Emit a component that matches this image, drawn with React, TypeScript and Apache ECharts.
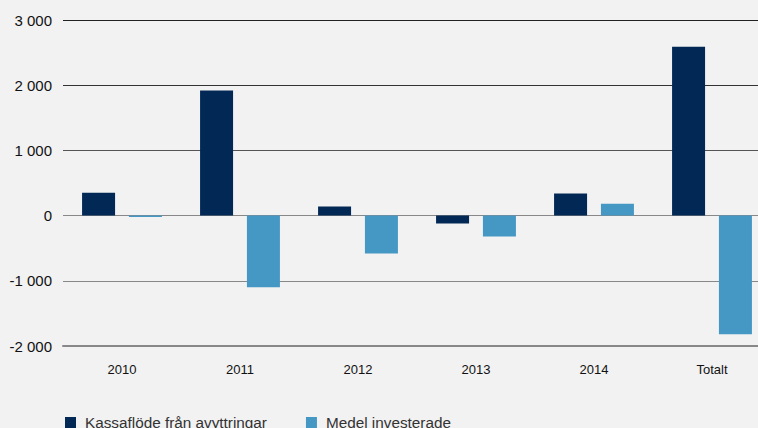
import React, { useEffect, useRef } from "react";
import * as echarts from "echarts";

const categories = ["2010", "2011", "2012", "2013", "2014", "Totalt"];
const kassaflode = [350, 1920, 140, -120, 340, 2590];
const medelInvesterade = [-20, -1100, -580, -320, 180, -1820];
const seriesNames = ["Kassaflöde från avyttringar", "Medel investerade"];
const yTicks = { min: -2000, max: 3000, interval: 1000 };

const FONT = "'Liberation Sans', Arial, Helvetica, sans-serif";

export default function App() {
  const ref = useRef<HTMLDivElement>(null);
  useEffect(() => {
    if (!ref.current) return;
    const chart = echarts.init(ref.current, null, { renderer: "svg" });
    chart.setOption({
      animation: false,
      backgroundColor: "#f2f2f2",
      textStyle: { fontFamily: FONT },
      grid: { left: 63, top: 20, bottom: 82, right: 0, containLabel: false },
      legend: {
        left: 60,
        top: 410,
        itemWidth: 11,
        itemHeight: 11,
        itemGap: 39,
        icon: "rect",
        textStyle: { fontSize: 15.3, color: "#333", fontFamily: FONT, padding: [0, 0, 0, 4] },
        data: seriesNames,
      },
      xAxis: {
        type: "category",
        data: categories,
        axisLine: { show: true, onZero: false, lineStyle: { color: "#888", width: 2 } },
        axisTick: { show: false },
        axisLabel: { margin: 17, fontSize: 13, color: "#111", fontFamily: FONT },
        splitLine: { show: false },
      },
      yAxis: {
        type: "value",
        min: yTicks.min,
        max: yTicks.max,
        interval: yTicks.interval,
        axisLine: { show: false },
        axisTick: { show: false },
        axisLabel: {
          margin: 11,
          fontSize: 15,
          color: "#111",
          fontFamily: FONT,
          formatter: (v: number) => {
            const s = Math.abs(v).toString().replace(/\B(?=(\d{3})+(?!\d))/g, " ");
            return (v < 0 ? "-" : "") + s;
          },
        },
        splitLine: {
          show: true,
          lineStyle: { color: ["#888", "#888", "#888", "#555", "#333", "#222"], width: 1 },
        },
      },
      series: [
        {
          name: seriesNames[0],
          type: "bar",
          data: kassaflode,
          barWidth: 33,
          barGap: "42%",
          itemStyle: { color: "#022855" },
        },
        {
          name: seriesNames[1],
          type: "bar",
          data: medelInvesterade,
          barWidth: 33,
          itemStyle: { color: "#4698c4" },
        },
      ],
    });
    return () => chart.dispose();
  }, []);
  return (
    <div style={{ position: "fixed", left: 0, top: 0, width: 758, height: 428, overflow: "hidden" }}>
      <div ref={ref} style={{ width: 771, height: 428 }} />
    </div>
  );
}
